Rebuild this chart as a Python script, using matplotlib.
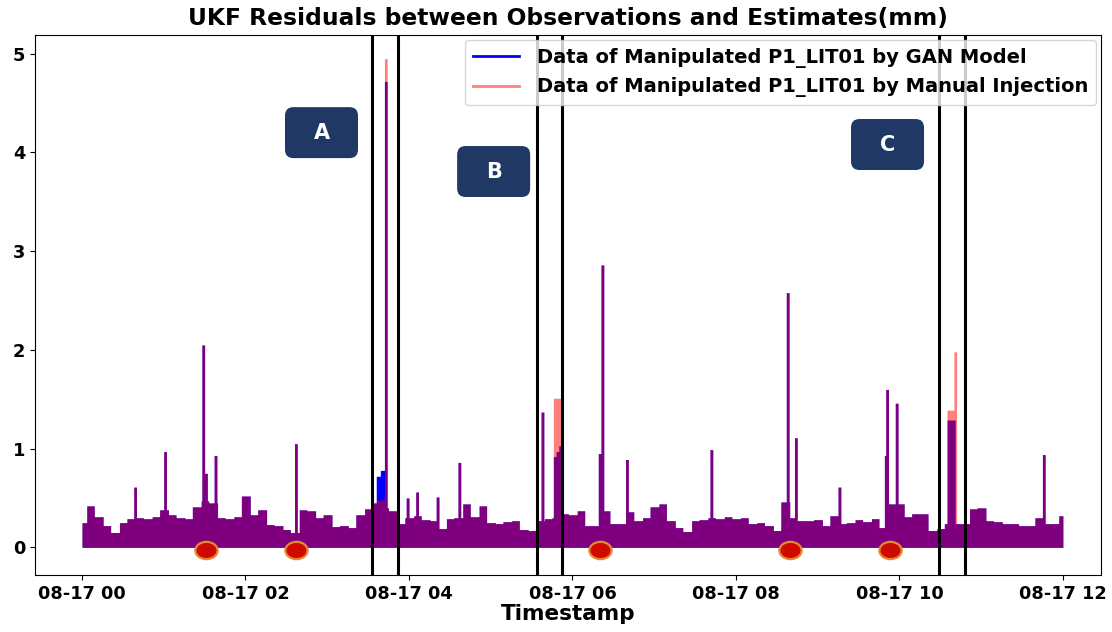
import numpy as np
import pandas as pd
import matplotlib
matplotlib.use('Agg')
import matplotlib.pyplot as plt
import matplotlib.dates as mdates
from matplotlib.patches import FancyBboxPatch
from matplotlib.lines import Line2D
from matplotlib.path import Path

plt.rcParams['font.family'] = ['DejaVu Sans']
plt.rcParams['font.weight'] = 'bold'
plt.rcParams['axes.titleweight'] = 'bold'
plt.rcParams['axes.labelweight'] = 'bold'

day = pd.Timestamp('2019-08-17')

# residual envelope, one value every 6 minutes from 00:00 to 12:00
resid_env = [
    0.25, 0.42, 0.31, 0.22, 0.15, 0.25, 0.29, 0.30, 0.29, 0.31,
    0.38, 0.33, 0.30, 0.29, 0.41, 0.47, 0.45, 0.30, 0.29, 0.31,
    0.52, 0.33, 0.38, 0.23, 0.22, 0.18, 0.15, 0.38, 0.37, 0.30,
    0.33, 0.21, 0.22, 0.20, 0.33, 0.39, 0.45, 0.40, 0.37, 0.24,
    0.30, 0.32, 0.28, 0.27, 0.19, 0.29, 0.30, 0.44, 0.31, 0.42,
    0.25, 0.24, 0.26, 0.27, 0.18, 0.17, 0.27, 0.29, 0.30, 0.34,
    0.33, 0.37, 0.22, 0.22, 0.37, 0.24, 0.24, 0.36, 0.27, 0.30,
    0.41, 0.44, 0.27, 0.20, 0.16, 0.27, 0.28, 0.30, 0.29, 0.31,
    0.29, 0.30, 0.24, 0.25, 0.22, 0.17, 0.46, 0.30, 0.27, 0.27,
    0.28, 0.22, 0.32, 0.24, 0.25, 0.28, 0.26, 0.29, 0.20, 0.44,
    0.44, 0.31, 0.34, 0.34, 0.17, 0.19, 0.24, 0.24, 0.24, 0.39,
    0.40, 0.27, 0.26, 0.24, 0.24, 0.22, 0.22, 0.30, 0.24, 0.24,
    0.32,
]

# spikes present in both series
spike_times = ['00:39', '01:01', '01:29', '01:31', '01:38', '02:37', '03:59', '04:06',
               '04:21', '04:37', '05:38', '06:20', '06:22', '06:40', '07:42', '08:38',
               '08:44', '09:16', '09:50', '09:51', '09:58', '11:46']
spike_vals = [0.61, 0.97, 2.05, 0.75, 0.93, 1.05, 0.50, 0.56,
              0.51, 0.86, 1.37, 0.95, 2.86, 0.89, 0.99, 2.58,
              1.11, 0.61, 0.93, 1.60, 1.46, 0.94]

# GAN manipulated data
gan_seg_start = ['03:36', '03:39', '05:46', '05:48', '05:50', '10:35']
gan_seg_end = ['03:39', '03:42', '05:48', '05:50', '05:52', '10:41']
gan_seg_vals = [0.72, 0.78, 0.92, 0.97, 1.03, 1.29]
gan_spike_times = ['03:43']
gan_spike_vals = [4.72]

# manual injection data
man_seg_start = ['03:36', '05:46', '10:35']
man_seg_end = ['03:42', '05:52', '10:41']
man_seg_vals = [0.48, 1.51, 1.39]
man_spike_times = ['03:43', '10:41']
man_spike_vals = [4.95, 1.98]

attack_lines = ['03:33', '03:52', '05:34', '05:52', '10:29', '10:48']
marker_times = ['01:31', '02:37', '06:20', '08:40', '09:53']

box_labels = ['A', 'B', 'C']


def ts(hhmm):
    return day + pd.Timedelta(hhmm + ':00')


grid = pd.date_range(day, day + pd.Timedelta(hours=12), freq='30s')
step = pd.Timedelta(minutes=6)


def build(seg_s, seg_e, seg_v, spk_t, spk_v):
    idx = np.round((grid - day) / step).astype(int)
    idx = np.clip(idx, 0, len(resid_env) - 1)
    y = np.asarray(resid_env, dtype=float)[idx]
    for s, e, v in zip(seg_s, seg_e, seg_v):
        m = (grid >= ts(s)) & (grid < ts(e))
        y[m] = np.maximum(y[m], v)
    for t, v in zip(spike_times + spk_t, spike_vals + spk_v):
        c = ts(t)
        m = (grid >= c - pd.Timedelta(minutes=1)) & (grid < c + pd.Timedelta(minutes=1))
        y[m] = np.maximum(y[m], v)
    return y


gan = build(gan_seg_start, gan_seg_end, gan_seg_vals, gan_spike_times, gan_spike_vals)
man = build(man_seg_start, man_seg_end, man_seg_vals, man_spike_times, man_spike_vals)

fig = plt.figure(figsize=(11.12, 6.32), dpi=100)
ax = fig.add_axes([35 / 1112, 57 / 632, 1066 / 1112, 540 / 632])

ax.fill_between(grid, 0, gan, step='post', color='blue', lw=0)
ax.fill_between(grid, 0, man, step='post', color='red', alpha=0.5, lw=0)

for t in attack_lines:
    ax.axvline(ts(t), color='black', lw=2.2, zorder=4)

uc = Path.unit_circle()
ell = Path(uc.vertices * np.array([1.0, 0.78]), uc.codes)
ax.plot([ts(t) for t in marker_times], [-0.03] * len(marker_times), ls='none',
        marker=ell, ms=16, mfc='#cc0a00', mec='#e8872e', mew=1.6, zorder=5)

# A / B / C label boxes (axes fraction)
box_pos = [(0.2345, 0.772), (0.396, 0.700), (0.7655, 0.750)]
bw, bh = 0.0685, 0.0944
for lab, (x0, y0) in zip(box_labels, box_pos):
    p = FancyBboxPatch((x0, y0), bw, bh, boxstyle='round,pad=0,rounding_size=0.008',
                       transform=ax.transAxes, fc='#203864', ec='none',
                       mutation_aspect=1066 / 540, zorder=6)
    ax.add_patch(p)
    ax.text(x0 + bw / 2, y0 + bh / 2, lab, transform=ax.transAxes, color='white',
            fontsize=15, ha='center', va='center', zorder=7)

ax.set_xlim(day - pd.Timedelta(minutes=34.5), day + pd.Timedelta(hours=12, minutes=28))
ax.set_ylim(-0.28, 5.19)
ax.xaxis.set_major_locator(mdates.HourLocator(interval=2))
ax.xaxis.set_major_formatter(mdates.DateFormatter('%m-%d %H'))
ax.tick_params(labelsize=12.8)
ax.set_yticks([0, 1, 2, 3, 4, 5])

ax.set_title('UKF Residuals between Observations and Estimates(mm)', fontsize=16.8, pad=7)
ax.set_xlabel('Timestamp', fontsize=15.5, labelpad=1)

handles = [Line2D([], [], color='blue', lw=2),
           Line2D([], [], color='red', alpha=0.5, lw=2)]
ax.legend(handles, ['Data of Manipulated P1_LIT01 by GAN Model',
                    'Data of Manipulated P1_LIT01 by Manual Injection'],
          loc='upper right', fontsize=14, handlelength=2.4, handletextpad=0.9,
          borderaxespad=0.25)

fig.savefig('out.png', dpi=100)
